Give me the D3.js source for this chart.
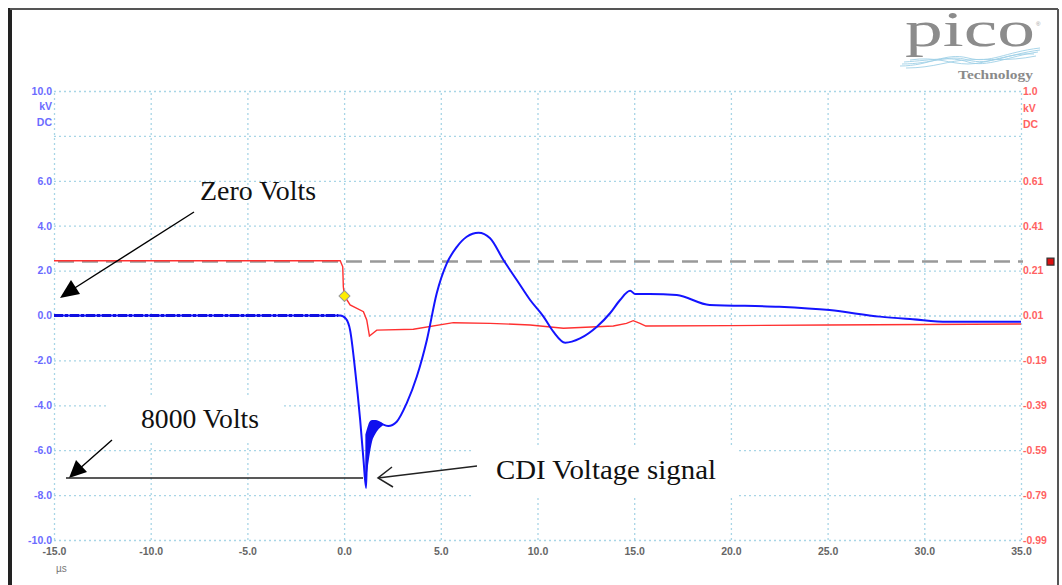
<!DOCTYPE html>
<html>
<head>
<meta charset="utf-8">
<script src="https://cdn.jsdelivr.net/npm/d3@7"></script>
<style>
  body { margin: 0; background: #fff; }
  svg { display: block; }
</style>
</head>
<body>
<svg id="chart" width="1062" height="585"></svg>
<script>
// Channel A (blue, kV) — time in µs
const blueTime = [-15, -0.2, 0.1, 0.31, 0.57, 0.83, 1.0, 1.14, 1.2, 1.5, 1.86, 2.28, 2.72, 3.24, 3.76, 4.28, 4.79, 5.31, 5.83, 6.34, 6.95, 7.55, 8.24, 8.93, 9.62, 10.31, 10.82, 11.43, 12.2, 13.07, 13.75, 14.27, 14.79, 15.05, 15.8, 17.2, 18.9, 22.5, 25.1, 27.7, 29.4, 31.2, 35];
const blueKV = [0, 0, -0.15, -0.65, -2.43, -4.65, -6.4, -7.68, -5.6, -4.7, -4.8, -4.92, -4.73, -3.9, -2.72, -1.09, 0.99, 2.32, 3.06, 3.51, 3.69, 3.44, 2.47, 1.58, 0.69, -0.05, -0.72, -1.21, -1.02, -0.5, 0.1, 0.69, 1.1, 0.96, 0.96, 0.91, 0.47, 0.39, 0.24, -0.05, -0.17, -0.28, -0.28];

// noisy band just after the negative spike
const bandTime = [1.1, 1.2, 1.3, 1.45, 1.6, 1.8, 2.0];
const bandHigh = [-5.3, -5.0, -4.75, -4.65, -4.65, -4.7, -4.8];
const bandLow = [-7.5, -6.9, -6.3, -5.6, -5.3, -5.05, -4.9];

// Channel B (red, kV)
const redTime = [-15, -0.2, -0.07, -0.04, 0.02, 0.31, 1.0, 1.17, 1.31, 1.69, 3.58, 5.65, 7.55, 9.62, 11.34, 13.92, 14.6, 14.95, 15.3, 15.6, 20, 25, 30, 35];
const redKV = [0.254, 0.254, 0.227, 0.138, 0.097, 0.057, 0.027, -0.01, -0.081, -0.055, -0.051, -0.022, -0.025, -0.032, -0.047, -0.037, -0.025, -0.013, -0.025, -0.037, -0.035, -0.032, -0.03, -0.028];

const triggerTime = 0.02;
const triggerLevel = 0.097;
const thresholdLevel = 0.25;

// axis ticks
const timeTicks = [-15, -10, -5, 0, 5, 10, 15, 20, 25, 30, 35];
const leftGrid = [-10, -8, -6, -4, -2, 0, 2, 4, 6, 8, 10];
const leftLabels = [10, 6, 4, 2, 0, -2, -4, -6, -8, -10];
const rightLabels = [1.01, 0.61, 0.41, 0.21, 0.01, -0.19, -0.39, -0.59, -0.79, -0.99];

const svg = d3.select('#chart');
const plot = { left: 54, right: 1021, top: 91, bottom: 540 };
const labelFont = 'Liberation Sans, Arial, sans-serif';
const hyphen = s => s.replace('\u2212', '-');

// Scales
const x = d3.scaleLinear().domain([-15, 35]).range([plot.left, plot.right]);
const yL = d3.scaleLinear().domain([-10, 10]).range([plot.bottom, plot.top]);
const yR = d3.scaleLinear().domain([-0.99, 1.01]).range([plot.bottom, plot.top]);

// Frame
svg.append('line').attr('x1', 10).attr('x2', 10).attr('y1', 8).attr('y2', 585)
  .attr('stroke', '#222').attr('stroke-width', 4);
svg.append('line').attr('x1', 10).attr('x2', 1058).attr('y1', 9).attr('y2', 9)
  .attr('stroke', '#555').attr('stroke-width', 2);
svg.append('line').attr('x1', 1058).attr('x2', 1058).attr('y1', 9).attr('y2', 585)
  .attr('stroke', '#555').attr('stroke-width', 2);

// Grid
const gridColor = '#a8d5e6';
svg.append('g')
  .attr('transform', `translate(0, ${plot.bottom})`)
  .call(d3.axisBottom(x).tickValues(timeTicks).tickSize(-(plot.bottom - plot.top)).tickFormat(''))
  .call(g => g.select('.domain').remove())
  .call(g => g.selectAll('line').attr('stroke', gridColor).attr('stroke-width', 1.3).attr('stroke-dasharray', '2,3'));

svg.append('g')
  .attr('transform', `translate(${plot.left}, 0)`)
  .call(d3.axisLeft(yL).tickValues(leftGrid).tickSize(-(plot.right - plot.left)).tickFormat(''))
  .call(g => g.select('.domain').remove())
  .call(g => g.selectAll('line').attr('stroke', gridColor).attr('stroke-width', 1.3).attr('stroke-dasharray', '2,3'));

// Left axis labels (blue)
svg.append('g')
  .attr('transform', `translate(${plot.left - 2}, 0)`)
  .call(d3.axisLeft(yL).tickValues(leftLabels).tickSize(0).tickPadding(0).tickFormat(d => hyphen(d3.format('.1f')(d))))
  .call(g => g.select('.domain').remove())
  .call(g => g.selectAll('text').attr('fill', '#6b6bff').attr('font-size', 10.5)
    .attr('font-weight', 'bold').attr('font-family', labelFont));

svg.append('g')
  .attr('fill', '#6b6bff').attr('font-size', 10.5).attr('font-weight', 'bold')
  .attr('font-family', labelFont).attr('text-anchor', 'end')
  .selectAll('text').data(['kV', 'DC']).join('text')
  .attr('x', plot.left - 2).attr('y', (d, i) => plot.top + 15 + i * 16 + 4)
  .text(d => d);

// Right axis labels (red)
svg.append('g')
  .attr('transform', `translate(${plot.right + 2}, 0)`)
  .call(d3.axisRight(yR).tickValues(rightLabels).tickSize(0).tickPadding(0)
    .tickFormat(d => d === 1.01 ? '1.0' : hyphen(d3.format('.2f')(d))))
  .call(g => g.select('.domain').remove())
  .call(g => g.selectAll('text').attr('fill', '#ff6262').attr('font-size', 10.5)
    .attr('font-weight', 'bold').attr('font-family', labelFont));

svg.append('g')
  .attr('fill', '#ff6262').attr('font-size', 10.5).attr('font-weight', 'bold')
  .attr('font-family', labelFont)
  .selectAll('text').data(['kV', 'DC']).join('text')
  .attr('x', plot.right + 2).attr('y', (d, i) => plot.top + 17 + i * 16 + 4)
  .text(d => d);

// Bottom axis labels
svg.append('g')
  .attr('transform', `translate(0, ${plot.bottom + 8})`)
  .call(d3.axisBottom(x).tickValues(timeTicks).tickSize(0).tickPadding(0).tickFormat(d => hyphen(d3.format('.1f')(d))))
  .call(g => g.select('.domain').remove())
  .call(g => g.selectAll('text').attr('fill', '#666').attr('font-size', 10.5)
    .attr('font-weight', 'bold').attr('font-family', labelFont));

svg.append('text').attr('x', x(-15) + 2).attr('y', 572)
  .attr('fill', '#777').attr('font-size', 10).attr('font-family', labelFont)
  .text('µs');

// White boxes behind the pasted annotation texts
svg.append('rect').attr('x', 107).attr('y', 398).attr('width', 175).attr('height', 42).attr('fill', '#fff');
svg.append('rect').attr('x', 473).attr('y', 446).attr('width', 265).attr('height', 52).attr('fill', '#fff');

// Threshold dashed line
svg.append('line')
  .attr('x1', plot.left + 4).attr('x2', plot.right + 2)
  .attr('y1', yR(thresholdLevel)).attr('y2', yR(thresholdLevel))
  .attr('stroke', '#999').attr('stroke-width', 2.5).attr('stroke-dasharray', '16,8');
svg.append('rect')
  .attr('x', 1047).attr('y', yR(thresholdLevel) - 3.5).attr('width', 7).attr('height', 7)
  .attr('fill', '#d11').attr('stroke', '#333').attr('stroke-width', 1.2);

// Red trace
const redLine = d3.line().x((d, i) => x(redTime[i])).y(d => yR(d));
svg.append('path').datum(redKV)
  .attr('d', redLine).attr('fill', 'none')
  .attr('stroke', '#ff3030').attr('stroke-width', 1.4);

// Blue trace
const blueLine = d3.line().x((d, i) => x(blueTime[i])).y(d => yL(d)).curve(d3.curveMonotoneX);
svg.append('path').datum(blueKV)
  .attr('d', blueLine).attr('fill', 'none')
  .attr('stroke', '#1414ff').attr('stroke-width', 2);

// dotted thickening on the flat baseline before the trigger
svg.append('line')
  .attr('x1', x(-15)).attr('x2', x(-0.3)).attr('y1', yL(0)).attr('y2', yL(0))
  .attr('stroke', '#1010e0').attr('stroke-width', 3.2).attr('stroke-dasharray', '9,2,3,2');

const bandArea = d3.area().x((d, i) => x(bandTime[i])).y0((d, i) => yL(bandLow[i])).y1(d => yL(d))
  .curve(d3.curveMonotoneX);
svg.append('path').datum(bandHigh)
  .attr('d', bandArea).attr('fill', '#1010ee');

// Trigger marker
svg.append('path')
  .attr('d', d3.symbol().type(d3.symbolSquare).size(60))
  .attr('transform', `translate(${x(triggerTime)}, ${yR(triggerLevel)}) rotate(45)`)
  .attr('fill', '#ffee00').attr('stroke', '#999').attr('stroke-width', 1);

// Annotations
const ann = svg.append('g').attr('font-family', 'Liberation Serif, Times New Roman, serif')
  .attr('font-size', 28).attr('fill', '#111');
ann.append('text').attr('x', 200).attr('y', 200).attr('textLength', 116).attr('lengthAdjust', 'spacingAndGlyphs').text('Zero Volts');
ann.append('text').attr('x', 141).attr('y', 428).attr('textLength', 118).attr('lengthAdjust', 'spacingAndGlyphs').text('8000 Volts');
ann.append('text').attr('x', 496).attr('y', 479).attr('textLength', 220).attr('lengthAdjust', 'spacingAndGlyphs').text('CDI Voltage signal');

svg.append('line').attr('x1', 194).attr('y1', 212).attr('x2', 70).attr('y2', 291)
  .attr('stroke', '#000').attr('stroke-width', 1.4);
svg.append('path').attr('d', 'M60,298 L71,280 L80,294 Z').attr('fill', '#000');

svg.append('line').attr('x1', 112).attr('y1', 440).attr('x2', 78).attr('y2', 470)
  .attr('stroke', '#000').attr('stroke-width', 1.4);
svg.append('path').attr('d', 'M69,478 L76,460 L87,472 Z').attr('fill', '#000');

svg.append('line').attr('x1', 66).attr('y1', 478).attr('x2', 363).attr('y2', 478)
  .attr('stroke', '#222').attr('stroke-width', 1.5);

svg.append('line').attr('x1', 477).attr('y1', 466).attr('x2', 378).attr('y2', 478)
  .attr('stroke', '#222').attr('stroke-width', 1.5);
svg.append('path').attr('d', 'M392,467 L378,478 L393,487')
  .attr('fill', 'none').attr('stroke', '#222').attr('stroke-width', 1.5);

// Pico logo
const logo = svg.append('g');
logo.append('text').attr('x', 905).attr('y', 46)
  .attr('font-family', 'Liberation Serif, Times New Roman, serif').attr('font-size', 50)
  .attr('fill', '#8c8c8c').attr('textLength', 130).attr('lengthAdjust', 'spacingAndGlyphs')
  .text('pico');
logo.append('text').attr('x', 1036).attr('y', 26)
  .attr('font-family', labelFont).attr('font-size', 6).attr('fill', '#999')
  .text('®');
const waves = [
  'M900,66 C930,66 945,52 968,58 C990,64 1005,52 1040,48',
  'M902,64 C932,64 948,54 968,60 C988,66 1008,54 1040,50',
  'M904,62 C934,60 950,56 968,62 C986,68 1010,56 1038,52',
  'M906,68 C934,68 950,60 968,60 C990,58 1006,62 1036,56',
  'M910,60 C936,56 950,64 968,64 C988,64 1010,52 1034,54'
];
logo.selectAll('path.wave').data(waves).join('path')
  .attr('class', 'wave').attr('d', d => d).attr('fill', 'none')
  .attr('stroke', '#9fd0e6').attr('stroke-width', 0.9);
logo.append('text').attr('x', 958).attr('y', 79)
  .attr('font-family', 'Liberation Serif, Times New Roman, serif').attr('font-size', 13)
  .attr('font-weight', 'bold').attr('fill', '#8a8a8a')
  .attr('textLength', 75).attr('lengthAdjust', 'spacingAndGlyphs')
  .text('Technology');
</script>
</body>
</html>
